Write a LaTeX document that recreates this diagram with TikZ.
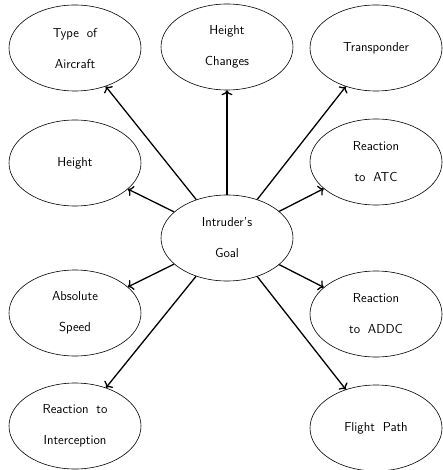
\documentclass[tikz,border=0pt]{standalone}
\usetikzlibrary{shapes.geometric,arrows.meta}
\newcommand\widespace{\spaceskip=0.6em plus 0pt\relax}
\begin{document}
\begin{tikzpicture}[x=1pt,y=-1pt,
  topic/.style={ellipse, draw, line width=0.6pt, minimum width=132pt, minimum height=86pt,
    inner sep=0pt, align=center, font=\sffamily\fontsize{13}{31}\selectfont\widespace},
  arr/.style={line width=1.3pt, -{To[length=5pt,width=11pt]}}]
\useasboundingbox (0,0) rectangle (443,470);
\node[topic] (goal) at (227,238){Intruder's\\Goal};
\node[topic] (type) at (75,48){Type of\\Aircraft};
\node[topic] (hchange) at (227,47){Height\\Changes};
\node[topic] (transp) at (376,48){Transponder};
\node[topic] (height) at (75,163){Height};
\node[topic] (atc) at (376,162){Reaction\\to ATC};
\node[topic] (speed) at (75,313){Absolute\\Speed};
\node[topic] (addc) at (376,314){Reaction\\to ADDC};
\node[topic] (intercept) at (75,426){Reaction to\\Interception};
\node[topic] (path) at (376,428){Flight Path};
\draw[arr](goal) -- (type);
\draw[arr](goal) -- (hchange);
\draw[arr](goal) -- (transp);
\draw[arr](goal) -- (height);
\draw[arr](goal) -- (atc);
\draw[arr](goal) -- (speed);
\draw[arr](goal) -- (addc);
\draw[arr](goal) -- (intercept);
\draw[arr](goal) -- (path);
\end{tikzpicture}
\end{document}
